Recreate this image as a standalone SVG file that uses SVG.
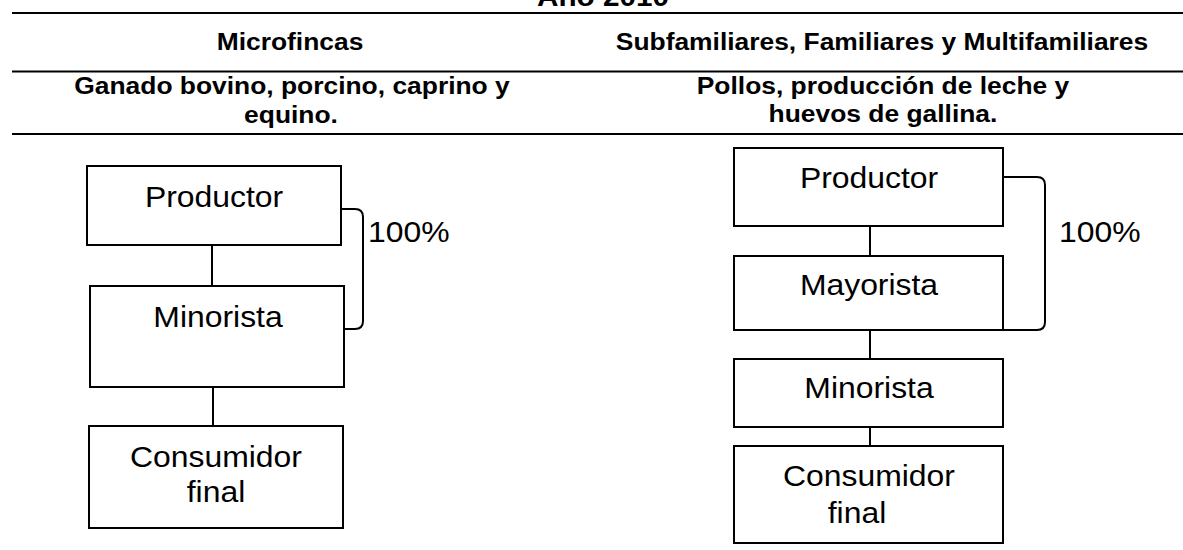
<svg xmlns="http://www.w3.org/2000/svg" width="1183" height="550" viewBox="0 0 1183 550">
<style>
  text { font-family: "Liberation Sans", Arial, sans-serif; fill: #000; text-anchor: middle; }
  .hd { font-size: 24px; font-weight: bold; }
  .ttl { font-size: 27px; font-weight: bold; }
  .nd { font-size: 29px; }
  .box { fill: #fff; stroke: #000; stroke-width: 2; }
  .rule { stroke: #000; stroke-width: 2; fill: none; }
  .conn { stroke: #000; stroke-width: 2; fill: none; }
</style>
<rect width="1183" height="550" fill="#fff"/>

<g id="header">
  <text class="ttl" transform="translate(603,6) scale(1.1,1)">Año 2010</text>
  <line class="rule" x1="12" y1="13" x2="1183" y2="13"/>
  <text class="hd" transform="translate(290,50) scale(1.1,1)">Microfincas</text>
  <text class="hd" transform="translate(882,50) scale(1.1,1)">Subfamiliares, Familiares y Multifamiliares</text>
  <line class="rule" x1="12" y1="71.5" x2="1183" y2="71.5"/>
  <text class="hd" transform="translate(292,94) scale(1.1,1)">Ganado bovino, porcino, caprino y</text>
  <text class="hd" transform="translate(291,123) scale(1.1,1)">equino.</text>
  <text class="hd" transform="translate(883,94) scale(1.1,1)">Pollos, producción de leche y</text>
  <text class="hd" transform="translate(883,122) scale(1.1,1)">huevos de gallina.</text>
  <line class="rule" x1="12" y1="134" x2="1183" y2="134"/>
</g>

<g id="connectors">
  <line class="conn" x1="212" y1="245" x2="212" y2="286"/>
  <line class="conn" x1="213" y1="387" x2="213" y2="426"/>
  <path class="conn" d="M341,209 H355 Q363,209 363,217 V321 Q363,329 355,329 H344"/>
  <line class="conn" x1="870" y1="226" x2="870" y2="256"/>
  <line class="conn" x1="870" y1="330" x2="870" y2="359"/>
  <line class="conn" x1="870" y1="427" x2="870" y2="446"/>
  <path class="conn" d="M1003,177 H1037 Q1045,177 1045,185 V322 Q1045,330 1037,330 H1003"/>
</g>

<g id="l-productor">
  <rect class="box" x="87" y="166" width="254" height="79"/>
  <text class="nd" transform="translate(214,207) scale(1.1,1)">Productor</text>
</g>
<g id="l-minorista">
  <rect class="box" x="90" y="286" width="254" height="101"/>
  <text class="nd" transform="translate(218,327) scale(1.1,1)">Minorista</text>
</g>
<g id="l-consumidor">
  <rect class="box" x="89" y="426" width="254" height="102"/>
  <text class="nd" transform="translate(216,467) scale(1.1,1)">Consumidor</text>
  <text class="nd" transform="translate(216,502) scale(1.1,1)">final</text>
</g>
<g id="l-pct">
  <text class="nd" style="text-anchor:start" transform="translate(368,242) scale(1.1,1)">100%</text>
</g>

<g id="r-productor">
  <rect class="box" x="734" y="148" width="269" height="78"/>
  <text class="nd" transform="translate(869,188) scale(1.1,1)">Productor</text>
</g>
<g id="r-mayorista">
  <rect class="box" x="734" y="256" width="269" height="74"/>
  <text class="nd" transform="translate(869,295) scale(1.1,1)">Mayorista</text>
</g>
<g id="r-minorista">
  <rect class="box" x="734" y="359" width="269" height="68"/>
  <text class="nd" transform="translate(869,398) scale(1.1,1)">Minorista</text>
</g>
<g id="r-consumidor">
  <rect class="box" x="734" y="446" width="269" height="97"/>
  <text class="nd" transform="translate(869,486) scale(1.1,1)">Consumidor</text>
  <text class="nd" transform="translate(857,523) scale(1.1,1)">final</text>
</g>
<g id="r-pct">
  <text class="nd" style="text-anchor:start" transform="translate(1059,242) scale(1.1,1)">100%</text>
</g>
</svg>
